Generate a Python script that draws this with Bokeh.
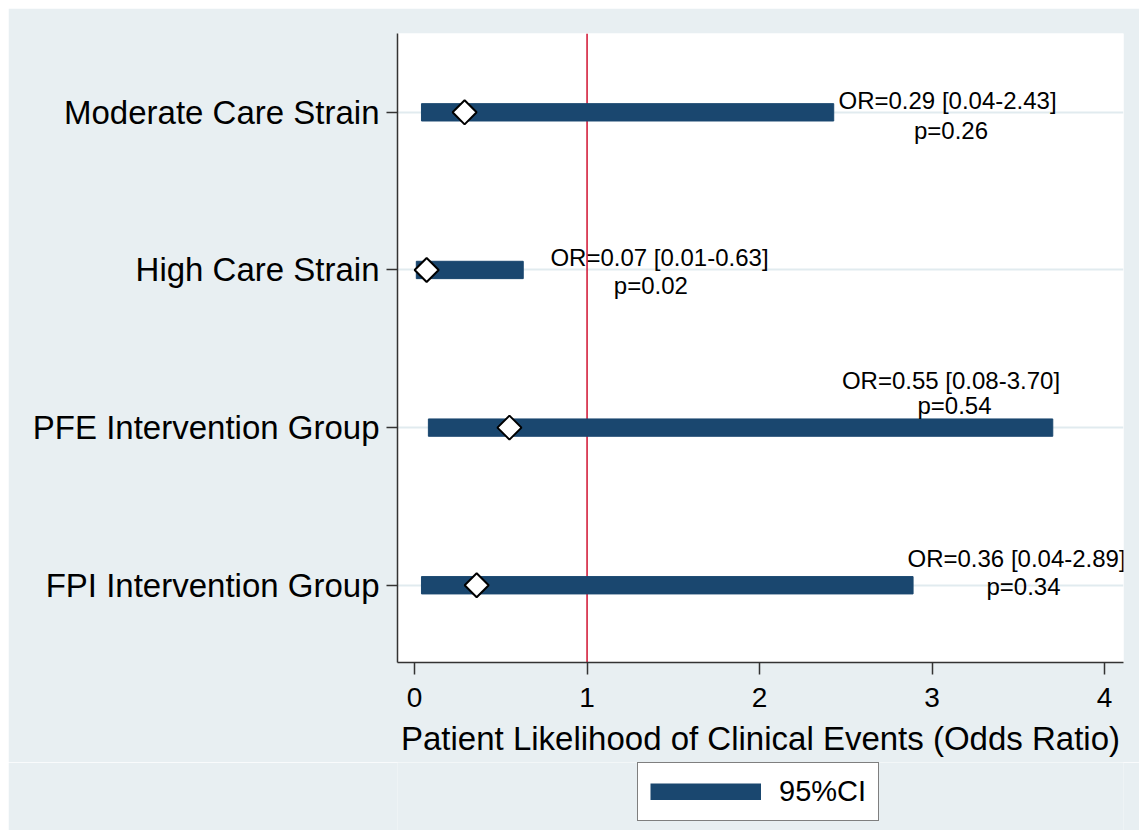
import math
from bokeh.plotting import figure
from bokeh.layouts import column
from bokeh.models import (ColumnDataSource, Range1d, FixedTicker, Span, Legend, LegendItem)
from bokeh.core.properties import value
from bokeh.embed import file_html
from bokeh.resources import INLINE

# ---- data ----
categories = ["Moderate Care Strain", "High Care Strain", "PFE Intervention Group", "FPI Intervention Group"]
odds_ratio = [0.29, 0.07, 0.55, 0.36]
ci_low = [0.04, 0.01, 0.08, 0.04]
ci_high = [2.43, 0.63, 3.70, 2.89]
p_values = [0.26, 0.02, 0.54, 0.34]
x_ticks = [0, 1, 2, 3, 4]
reference_value = 1
legend_label = "95%CI"

# ---- annotation placement (data units) ----
or_label_x = [3.09, 1.42, 3.11, 3.49]
or_label_dy = [0.076, 0.081, 0.298, 0.171]
p_label_x = [3.11, 1.37, 3.13, 3.53]
p_label_dy = [-0.114, -0.10, 0.14, -0.006]

n = len(categories)
ypos = [n - i for i in range(n)]

src = ColumnDataSource(dict(
    y=ypos, orr=odds_ratio, lo=ci_low, hi=ci_high,
))
lab = ColumnDataSource(dict(
    or_x=or_label_x,
    or_y=[y + d for y, d in zip(ypos, or_label_dy)],
    or_t=[f"OR={o:.2f} [{l:.2f}-{h:.2f}]" for o, l, h in zip(odds_ratio, ci_low, ci_high)],
    p_x=p_label_x,
    p_y=[y + d for y, d in zip(ypos, p_label_dy)],
    p_t=[f"p={pv:.2f}" for pv in p_values],
))

FONT = "Liberation Sans"
NAVY = "#1a476f"
BG = "#e8eff2"

p = figure(width=1131, height=754,
           x_range=Range1d(-0.099, 4.11), y_range=Range1d(0.51, 4.5),
           output_backend="svg", toolbar_location=None,
           min_border_left=389, min_border_right=16, min_border_top=25, min_border_bottom=100,
           background_fill_color="white", border_fill_color=BG,
           outline_line_color=None)

# grid
p.xgrid.visible = False
p.ygrid.ticker = FixedTicker(ticks=ypos)
p.ygrid.grid_line_color = "#e1ebef"
p.ygrid.grid_line_width = 2

# reference line
p.add_layout(Span(location=reference_value, dimension="height", line_color="#d0102f",
                  line_width=1.5, level="underlay"))

bars = p.hbar(y="y", left="lo", right="hi", height=0.11, source=src,
              fill_color=NAVY, line_color=NAVY, line_width=1)
p.scatter(x="orr", y="y", source=src, marker="square", size=17, angle=math.pi / 4,
          fill_color="white", line_color="black", line_width=2)

p.text(x="or_x", y="or_y", text="or_t", source=lab, text_align="center",
       text_baseline="middle", text_font=value(FONT), text_font_size="24px", text_color="black")
p.text(x="p_x", y="p_y", text="p_t", source=lab, text_align="center",
       text_baseline="middle", text_font=value(FONT), text_font_size="24px", text_color="black")

# x axis
xa = p.xaxis[0]
xa.ticker = FixedTicker(ticks=x_ticks)
xa.major_tick_out = 12
xa.major_tick_in = 0
xa.minor_tick_line_color = None
xa.axis_line_color = "#333333"
xa.axis_line_width = 1.5
xa.major_tick_line_color = "#333333"
xa.major_tick_line_width = 1.5
xa.major_label_text_font = FONT
xa.major_label_text_font_size = "28px"
xa.major_label_text_color = "black"
xa.major_label_standoff = 13
xa.axis_label = "Patient Likelihood of Clinical Events (Odds Ratio)"
xa.axis_label_text_font = FONT
xa.axis_label_text_font_size = "33px"
xa.axis_label_text_font_style = "normal"
xa.axis_label_text_color = "black"
xa.axis_label_standoff = 10

# y axis
ya = p.yaxis[0]
ya.ticker = FixedTicker(ticks=ypos)
ya.major_label_overrides = {y: c for y, c in zip(ypos, categories)}
ya.major_tick_out = 11
ya.major_tick_in = 0
ya.minor_tick_line_color = None
ya.axis_line_color = "#333333"
ya.axis_line_width = 1.5
ya.major_tick_line_color = "#333333"
ya.major_tick_line_width = 1.5
ya.major_label_text_font = FONT
ya.major_label_text_font_size = "33px"
ya.major_label_text_color = "black"
ya.major_label_standoff = 7

# ---- legend strip below the chart (key drawn from the same data, out of view) ----
lg = figure(width=1131, height=68, x_range=Range1d(0, 1), y_range=Range1d(10, 11),
            output_backend="svg", toolbar_location=None,
            x_axis_location=None, y_axis_location=None,
            min_border=0, min_border_left=0, min_border_right=0,
            min_border_top=0, min_border_bottom=0,
            background_fill_color=BG, border_fill_color=BG, outline_line_color=None)
lg.xgrid.visible = False
lg.ygrid.visible = False
key = lg.line(x="hi", y="y", source=src, line_width=17, line_color=NAVY, line_cap="butt")

legend = Legend(items=[LegendItem(label=legend_label, renderers=[key])],
                location=(240, 9), orientation="horizontal",
                label_text_font=FONT, label_text_font_size="29px", label_text_color="black",
                glyph_width=111, glyph_height=17, label_standoff=18,
                padding=12, margin=0, spacing=0,
                border_line_color="black", border_line_width=1.5,
                background_fill_color="white", background_fill_alpha=1)
lg.add_layout(legend)

layout = column(p, lg, spacing=0)
layout.margin = 8

open("out.html", "w").write(file_html(layout, INLINE))
